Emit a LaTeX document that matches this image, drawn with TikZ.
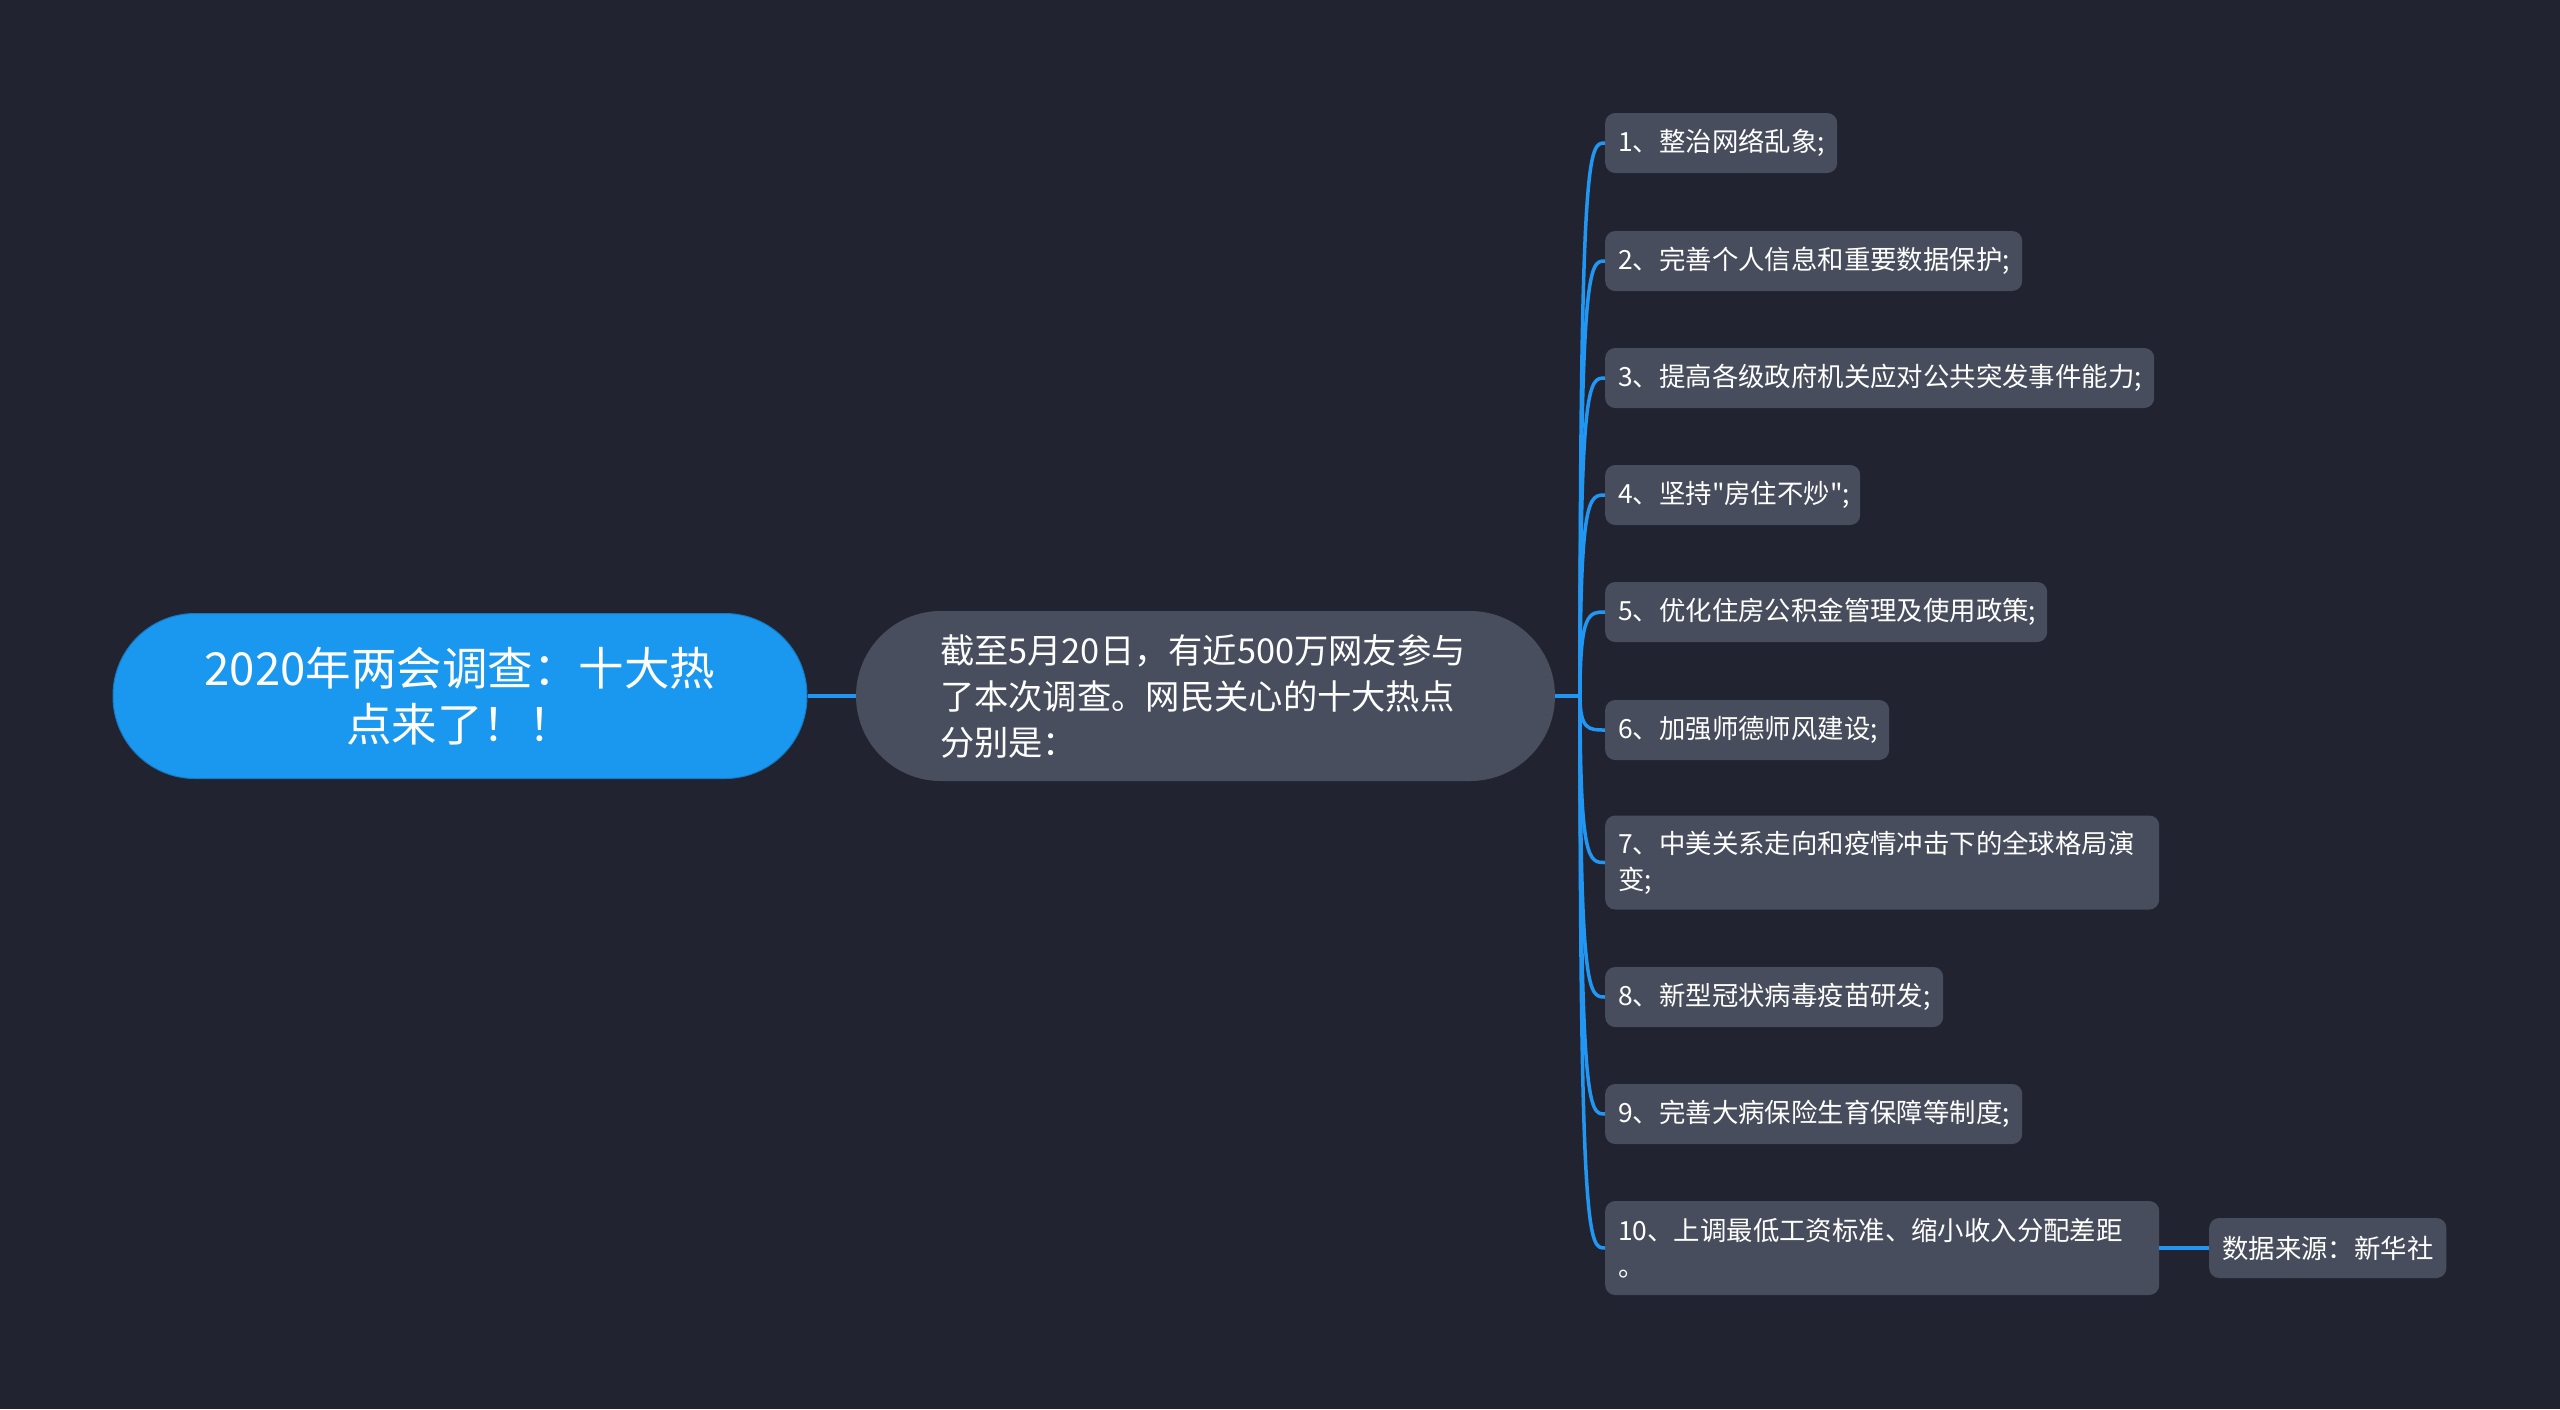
\documentclass[tikz,border=0pt]{standalone}
\usepackage{fontspec}
\setmainfont{Noto Sans CJK SC}[Ligatures=TeXOff]
\definecolor{bgc}{RGB}{33,36,48}
\definecolor{rootc}{RGB}{26,152,240}
\definecolor{midc}{RGB}{72,78,94}
\definecolor{leafc}{RGB}{71,77,92}
\definecolor{connc}{RGB}{33,150,243}
\tikzset{
  rootbox/.style={fill=rootc, draw=rootc!80!black, line width=1pt, rounded corners=82pt, minimum width=694pt, minimum height=165pt, text width=600pt, align=center, text=white, font=\fontsize{45.5}{56}\selectfont, inner sep=0pt},
  midbox/.style={fill=midc, rounded corners=85pt, minimum width=699pt, minimum height=170pt, text width=531pt, align=left, text=white, font=\fontsize{34.3}{46}\selectfont, inner xsep=84pt, inner ysep=0pt},
  leafbox/.style={fill=leafc, rounded corners=10pt, anchor=west, minimum height=60pt, align=left, text=white, font=\fontsize{26.4}{36}\selectfont, inner xsep=13pt, inner ysep=0pt},
  conn/.style={draw=connc, line width=3.5pt}
}
\newcommand{\leafnode}[4]{\node[leafbox, text width=#3pt-26pt, minimum width=#3pt] (#1) at (1605,#2) {#4};}
\begin{document}
\begin{tikzpicture}[x=1pt,y=-1pt]
\fill[bgc] (0,0) rectangle (2560,1409);
\useasboundingbox (0,0) rectangle (2560,1409);

\node[rootbox] (root) at (460,696) {2020年两会调查：十大热\\点来了！！};
\node[midbox] (mid) at (1205.5,696) {截至5月20日，有近500万网友参与\\了本次调查。网民关心的十大热点\\分别是：};

\leafnode{l1}{143}{232}{1、整治网络乱象;}
\leafnode{l2}{261}{417}{2、完善个人信息和重要数据保护;}
\leafnode{l3}{378}{549}{3、提高各级政府机关应对公共突发事件能力;}
\leafnode{l4}{495}{255}{4、坚持"房住不炒";}
\leafnode{l5}{612}{442}{5、优化住房公积金管理及使用政策;}
\leafnode{l6}{730}{284}{6、加强师德师风建设;}
\node[leafbox, text width=528pt, minimum width=554pt, minimum height=94pt] (l7) at (1605,862.5) {7、中美关系走向和疫情冲击下的全球格局演\\变;};
\leafnode{l8}{997}{338}{8、新型冠状病毒疫苗研发;}
\leafnode{l9}{1114}{417}{9、完善大病保险生育保障等制度;}
\node[leafbox, text width=528pt, minimum width=554pt, minimum height=94pt] (l10) at (1605,1248) {10、上调最低工资标准、缩小收入分配差距\\。};
\node[leafbox, minimum width=237pt] (src) at (2209,1248) {数据来源：新华社};

\coordinate (hub) at (1580,696);
\draw[conn] (root.east) -- (mid.west);
\draw[conn] (mid.east) -- (hub);
\foreach \n in {l1,l2,l3,l4,l5,l6,l7,l8,l9,l10}{
  \draw[conn] (hub) .. controls (hub |- \n.west) and ([xshift=9pt]hub |- \n.west) .. (\n.west);
}
\draw[conn] (l10.east) -- (src.west);
\end{tikzpicture}
\end{document}
